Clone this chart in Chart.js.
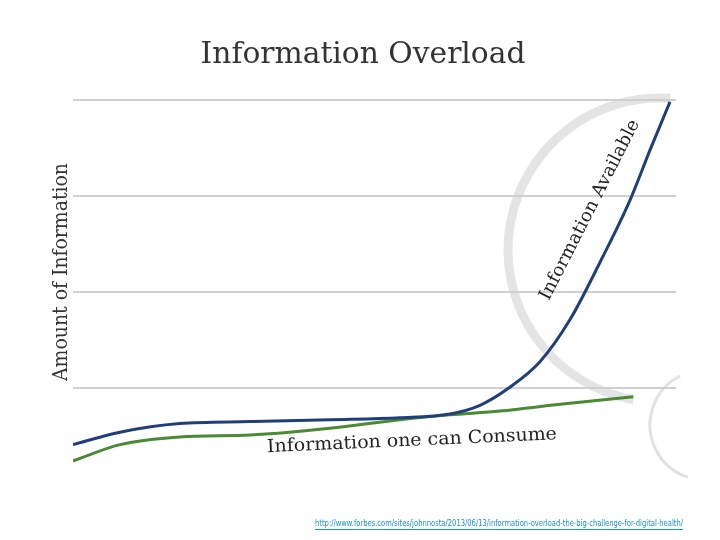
<!DOCTYPE html>
<html><head><meta charset="utf-8">
<script src="https://cdn.jsdelivr.net/npm/chart.js@4"></script>
<style>html,body{margin:0;padding:0;background:#fff}#w{width:720px;height:540px}</style>
</head><body><div id="w"><canvas id="c"></canvas></div>
<script>
const availableX = [0,7.8,17.7,29.4,42.6,54.2,62.5,67.5,72.5,77.4,82.4,87.4,92.4,95.7,99];
const availableY = [0.41,0.54,0.63,0.65,0.67,0.69,0.73,0.82,1.01,1.27,1.71,2.31,2.96,3.48,3.98];
const consumeX = [0,7.8,17.7,29.4,42.6,54.2,62.5,70.8,80.8,92.9];
const consumeY = [0.24,0.41,0.49,0.51,0.58,0.67,0.72,0.76,0.83,0.91];
const titleText = "Information Overload";
const yTitle = "Amount of Information";
const urlText = "http://www.forbes.com/sites/johnnosta/2013/06/13/information-overload-the-big-challenge-for-digital-health/";

function fitText(ctx, t, x, y, w, font, angle, color){
  ctx.save(); ctx.font = font; ctx.fillStyle = color;
  const m = ctx.measureText(t).width;
  ctx.translate(x,y); ctx.rotate(angle||0); ctx.scale(w/m,1);
  ctx.textAlign='center'; ctx.textBaseline='middle'; ctx.fillText(t,0,0); ctx.restore();
}
const deco = {
  id:'deco',
  beforeDatasetsDraw(ch){
    const ctx=ch.ctx; ctx.save();
    ctx.strokeStyle='rgba(205,205,205,0.55)'; ctx.lineWidth=9;
    ctx.beginPath(); ctx.arc(660,250,152,1.745,4.78); ctx.stroke();
    ctx.lineWidth=3; ctx.strokeStyle='rgba(205,205,205,0.6)';
    ctx.beginPath(); ctx.arc(705,425,55,Math.PI*0.6,Math.PI*1.35); ctx.stroke();
    ctx.restore();
  },
  afterDatasetsDraw(ch){
    const ctx=ch.ctx;
    fitText(ctx,titleText,363,55,325,'30px "DejaVu Serif"',0,'#333');
    fitText(ctx,yTitle,62,272,218,'20px "DejaVu Serif"',-Math.PI/2,'#333');
    fitText(ctx,"Information Available",590,210,200,'18px "DejaVu Serif"',-1.1,'#222');
    fitText(ctx,"Information one can Consume",412,441,290,'18px "DejaVu Serif"',-0.045,'#222');
    ctx.save(); ctx.font='8px "DejaVu Sans"'; ctx.fillStyle='#1a8fc9';
    const m=ctx.measureText(urlText).width; ctx.translate(315,524); ctx.scale(368/m,1);
    ctx.textBaseline='middle'; ctx.fillText(urlText,0,0); ctx.fillRect(0,5,m,1); ctx.restore();
  }
};
new Chart(document.getElementById('c'),{
  type:'line',
  data:{datasets:[
    {label:'Information Available',data:availableX.map((x,i)=>({x,y:availableY[i]})),borderColor:'#1f3f7a',borderWidth:3,pointRadius:0,tension:0.4,cubicInterpolationMode:'monotone'},
    {label:'Information one can Consume',data:consumeX.map((x,i)=>({x,y:consumeY[i]})),borderColor:'#4a8a35',borderWidth:3,pointRadius:0,tension:0.4,cubicInterpolationMode:'monotone'}
  ]},
  options:{responsive:true,maintainAspectRatio:false,animation:false,
    layout:{padding:{left:73,right:44,top:100,bottom:56}},
    plugins:{legend:{display:false},tooltip:{enabled:false}},
    scales:{
      x:{type:'linear',min:0,max:100,display:false},
      y:{min:0,max:4,ticks:{display:false,stepSize:1},border:{display:false},
        grid:{drawTicks:false,lineWidth:2,color:c=>c.tick&&c.tick.value===0?'rgba(0,0,0,0)':'#d0d0d0'},
        afterFit(s){s.width=0;}}
    }
  },
  plugins:[deco]
});
</script></body></html>
